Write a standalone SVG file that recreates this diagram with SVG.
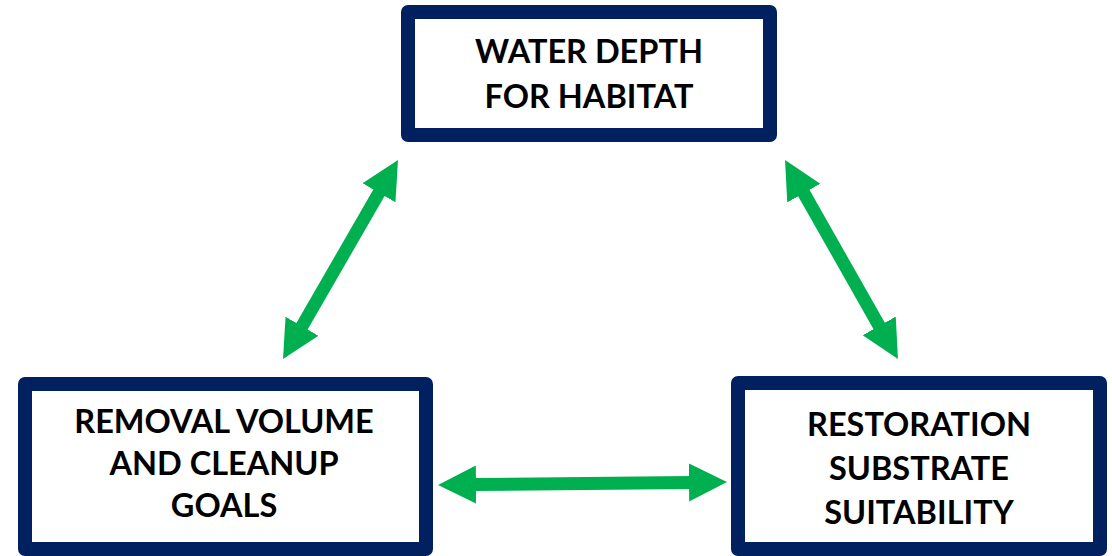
<svg xmlns="http://www.w3.org/2000/svg" width="1112" height="556" viewBox="0 0 1112 556">
<style>
.box{fill:#fff;stroke:#002060;stroke-width:14;stroke-linejoin:round}
.t{font-family:Lato,"Open Sans","Liberation Sans",sans-serif;font-weight:bold;font-size:32.5px;fill:#000;text-anchor:middle}
.c{stroke:#00b050;stroke-width:13;fill:none;marker-start:url(#ah);marker-end:url(#ah)}
</style>
<defs>
<marker id="ah" markerUnits="userSpaceOnUse" markerWidth="40" markerHeight="40" viewBox="0 -20 40 40" refX="2" refY="0" orient="auto-start-reverse">
<path d="M0,-19 L38,0 L0,19 z" fill="#00b050"/>
</marker>
</defs>
<rect width="1112" height="556" fill="#fff"/>
<g id="connectors">
<line class="c" x1="301" y1="327.9" x2="380" y2="191.1"/>
<line class="c" x1="802.8" y1="191.3" x2="880.2" y2="327.7"/>
<line class="c" x1="474" y1="484.6" x2="691" y2="482.4"/>
</g>
<g id="water-depth">
<rect class="box" x="408" y="12" width="362" height="123"/>
<text class="t" x="589" y="63">WATER DEPTH</text>
<text class="t" x="589" y="108">FOR HABITAT</text>
</g>
<g id="removal-volume">
<rect class="box" x="25" y="384" width="401" height="165"/>
<text class="t" x="224" y="433">REMOVAL VOLUME</text>
<text class="t" x="224" y="475">AND CLEANUP</text>
<text class="t" x="224" y="517">GOALS</text>
</g>
<g id="restoration">
<rect class="box" x="738" y="383" width="362" height="166"/>
<text class="t" x="919" y="436">RESTORATION</text>
<text class="t" x="919" y="480">SUBSTRATE</text>
<text class="t" x="919" y="524">SUITABILITY</text>
</g>
</svg>
